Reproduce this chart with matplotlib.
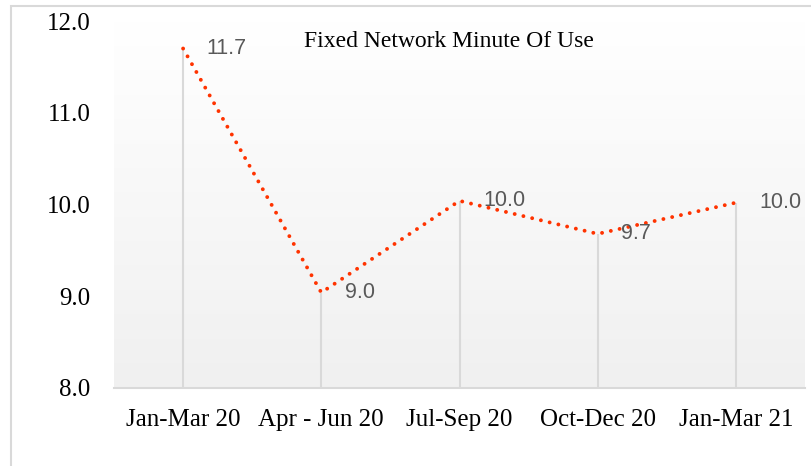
import matplotlib
matplotlib.use('Agg')
import matplotlib.pyplot as plt
from matplotlib.patches import Rectangle
import numpy as np

periods = ["Jan-Mar 20", "Apr - Jun 20", "Jul-Sep 20", "Oct-Dec 20", "Jan-Mar 21"]
minutes = [11.70, 9.04, 10.04, 9.68, 10.02]
yticks = [8.0, 9.0, 10.0, 11.0, 12.0]

serif = ['Liberation Serif', 'DejaVu Serif']
sans = ['Liberation Sans', 'DejaVu Sans']

fig = plt.figure(figsize=(8.11, 4.66), dpi=100)
ax = fig.add_axes([114/811, 1 - 388/466, 691/811, 367/466])

# outer chart border
fig.patches.append(Rectangle((11/811, -0.1), 1.1, 1.1 - 6/466, transform=fig.transFigure,
                             fill=False, edgecolor='#d9d9d9', linewidth=1.5))

# gradient plot background
grad = np.linspace(0, 1, 256).reshape(-1, 1)
ax.imshow(grad, extent=[0, 1, 0, 1], transform=ax.transAxes, aspect='auto',
          cmap=matplotlib.colors.LinearSegmentedColormap.from_list('g', ['#f0f0f0', '#ffffff']),
          origin='lower', zorder=0)

x = np.arange(len(periods))
ax.vlines(x, 8.0, minutes, colors='#d9d9d9', linewidth=1.5, zorder=1)
ax.plot(x, minutes, color='#ff3300', linewidth=2.8, linestyle=(0, (0.01, 2.3)),
        dash_capstyle='round', zorder=3)

for xi, v in zip(x, minutes):
    ax.annotate(f"{v:.1f}", (xi, v), xytext=(17, 0), textcoords='offset points',
                ha='left', va='center', color='#595959', fontsize=15.5, family=sans, zorder=4)

ax.set_xlim(-0.5, len(periods) - 0.5)
ax.set_ylim(8.0, 12.0)
ax.set_xticks(x)
ax.set_xticklabels(periods, family=serif, fontsize=18)
ax.set_yticks(yticks)
ax.set_yticklabels([f"{t:.1f}" for t in yticks], family=serif, fontsize=18)
ax.tick_params(axis='both', length=0)
ax.tick_params(axis='y', pad=17)
ax.tick_params(axis='x', pad=15)

for s in ['top', 'right', 'left']:
    ax.spines[s].set_visible(False)
ax.spines['bottom'].set_color('#d9d9d9')
ax.spines['bottom'].set_linewidth(1.5)

ax.text(0.485, 0.943, "Fixed Network Minute Of Use", transform=ax.transAxes,
        ha='center', va='center', fontsize=17, family=serif, color='black')

fig.savefig('out.png', dpi=100)
plt.close()
